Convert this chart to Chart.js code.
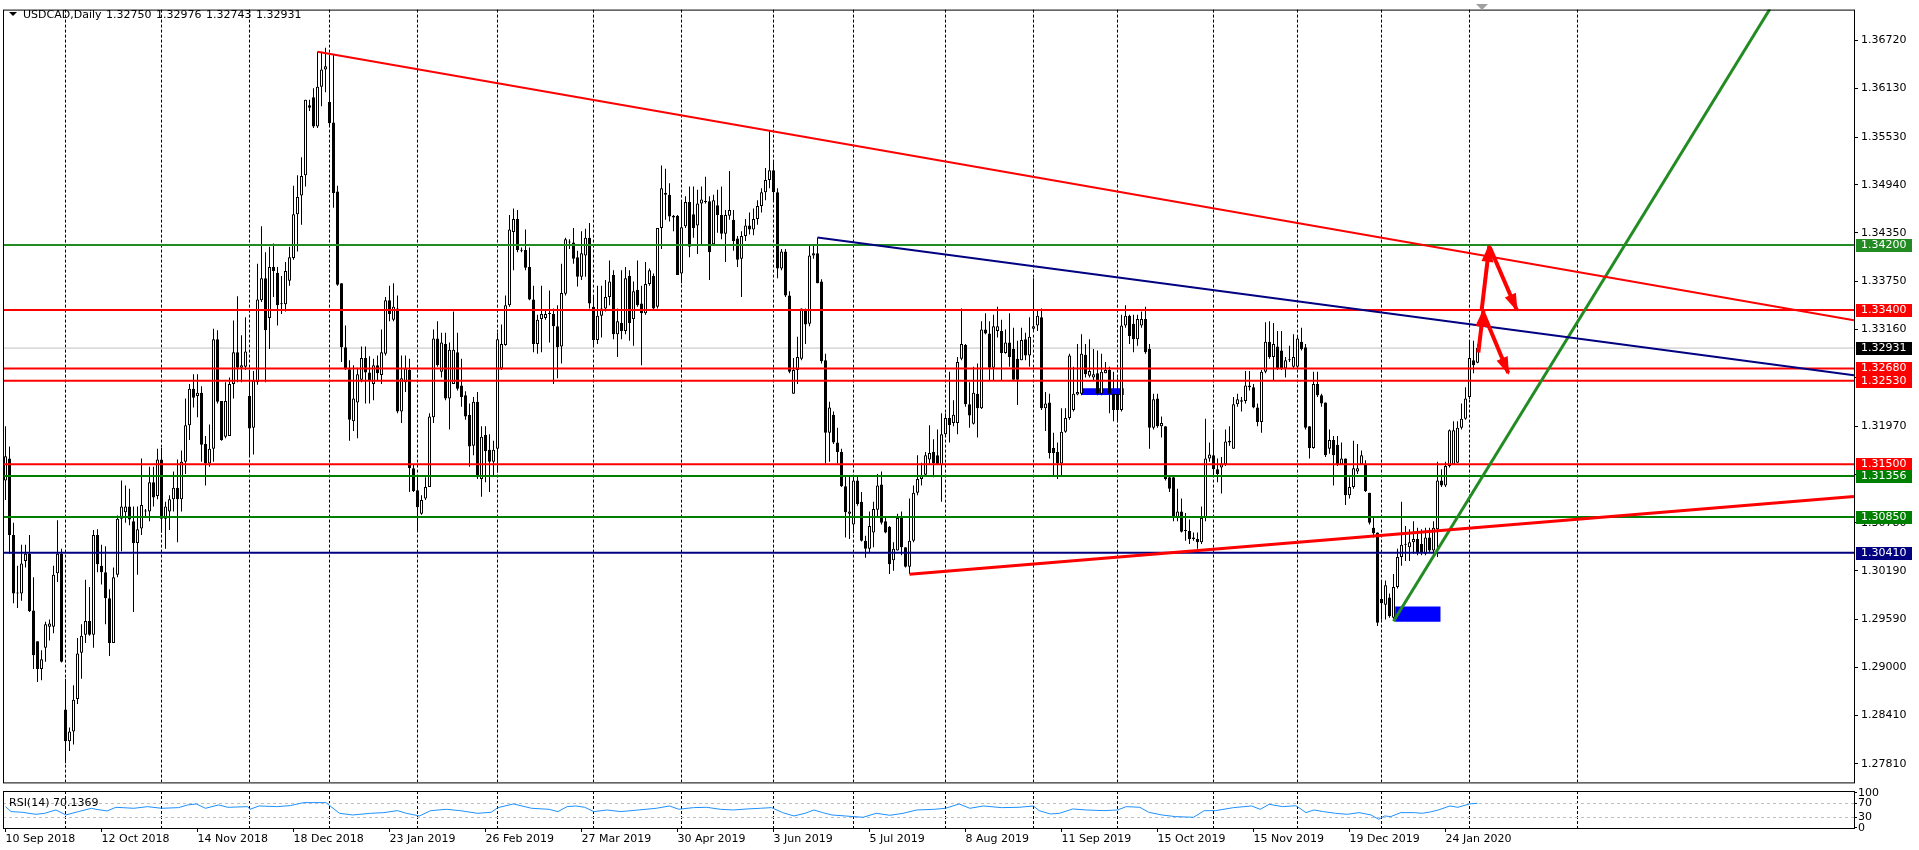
<!DOCTYPE html>
<html>
<head>
<meta charset="utf-8">
<title>USDCAD,Daily</title>
<script src="https://cdn.jsdelivr.net/npm/chart.js@4.4.1/dist/chart.umd.min.js"></script>
<style>
  html, body { margin: 0; padding: 0; background: #fff; overflow: hidden; }
  #wrap { position: relative; width: 1919px; height: 850px; }
  canvas { position: absolute; left: 0; }
  #main { top: 0; }
  #rsi { top: 780px; }
</style>
</head>
<body>
<div id="wrap">
  <canvas id="main" width="1919" height="792"></canvas>
  <canvas id="rsi" width="1919" height="70"></canvas>
</div>
<script>
// daily candles, one value per bar (bar 0 = 10 Sep 2018)
var opens = [
  1.3130,1.3157,1.3063,1.2992,1.2991,1.3031,1.3040,1.2970,1.2932,1.2898, 1.2924,1.2950,1.2950,1.3016,1.3040,1.2848,1.2809,1.2821,1.2861,1.2918,
  1.2940,1.2957,1.2940,1.3063,1.3025,1.3017,1.2985,1.2930,1.3014,1.3083, 1.3091,1.3098,1.3080,1.3053,1.3071,1.3092,1.3092,1.3128,1.3111,1.3156,
  1.3083,1.3092,1.3107,1.3121,1.3107,1.3153,1.3198,1.3243,1.3234,1.3238, 1.3175,1.3151,1.3169,1.3304,1.3228,1.3184,1.3185,1.3249,1.3288,1.3269,
  1.3270,1.3234,1.3195,1.3251,1.3352,1.3379,1.3330,1.3393,1.3386,1.3348, 1.3347,1.3376,1.3404,1.3458,1.3481,1.3506,1.3592,1.3602,1.3566,1.3615,
  1.3636,1.3596,1.3571,1.3486,1.3373,1.3294,1.3267,1.3203,1.3226,1.3254, 1.3281,1.3263,1.3249,1.3272,1.3260,1.3286,1.3352,1.3328,1.3342,1.3215,
  1.3251,1.3266,1.3145,1.3118,1.3089,1.3108,1.3122,1.3208,1.3305,1.3264, 1.3298,1.3231,1.3249,1.3288,1.3247,1.3235,1.3211,1.3173,1.3227,1.3132,
  1.3186,1.3168,1.3153,1.3169,1.3268,1.3297,1.3346,1.3436,1.3452,1.3414, 1.3414,1.3393,1.3353,1.3298,1.3329,1.3330,1.3335,1.3335,1.3320,1.3295,
  1.3360,1.3424,1.3423,1.3405,1.3381,1.3407,1.3429,1.3344,1.3303,1.3333, 1.3342,1.3356,1.3383,1.3310,1.3324,1.3314,1.3382,1.3329,1.3365,1.3348,
  1.3336,1.3372,1.3382,1.3344,1.3441,1.3484,1.3482,1.3456,1.3456,1.3385, 1.3443,1.3473,1.3458,1.3444,1.3471,1.3474,1.3474,1.3421,1.3469,1.3457,
  1.3434,1.3456,1.3451,1.3428,1.3403,1.3431,1.3444,1.3439,1.3452,1.3468, 1.3485,1.3500,1.3512,1.3485,1.3391,1.3412,1.3358,1.3237,1.3266,1.3280,
  1.3340,1.3323,1.3407,1.3410,1.3375,1.3278,1.3189,1.3211,1.3177,1.3165, 1.3123,1.3089,1.3076,1.3130,1.3104,1.3056,1.3046,1.3066,1.3094,1.3125,
  1.3080,1.3073,1.3032,1.3044,1.3084,1.3048,1.3024,1.3056,1.3115,1.3132, 1.3137,1.3156,1.3165,1.3161,1.3149,1.3187,1.3207,1.3201,1.3201,1.3280,
  1.3297,1.3224,1.3200,1.3237,1.3219,1.3316,1.3311,1.3269,1.3314,1.3314, 1.3287,1.3300,1.3292,1.3280,1.3278,1.3304,1.3284,1.3317,1.3321,1.3331,
  1.3219,1.3226,1.3170,1.3165,1.3151,1.3190,1.3207,1.3217,1.3236,1.3237, 1.3285,1.3259,1.3257,1.3262,1.3237,1.3262,1.3266,1.3237,1.3237,1.3217,
  1.3321,1.3333,1.3323,1.3304,1.3321,1.3329,1.3292,1.3195,1.3231,1.3197, 1.3197,1.3134,1.3134,1.3084,1.3092,1.3068,1.3068,1.3058,1.3058,1.3054,
  1.3084,1.3157,1.3161,1.3144,1.3146,1.3150,1.3177,1.3169,1.3224,1.3227, 1.3228,1.3245,1.3245,1.3220,1.3202,1.3264,1.3301,1.3282,1.3295,1.3290,
  1.3268,1.3278,1.3270,1.3270,1.3301,1.3294,1.3197,1.3170,1.3249,1.3235, 1.3226,1.3169,1.3180,1.3174,1.3150,1.3157,1.3112,1.3122,1.3141,1.3150,
  1.3150,1.3115,1.3072,1.3066,1.2984,1.2977,1.2986,1.2961,1.2999,1.3036, 1.3051,1.3048,1.3054,1.3058,1.3052,1.3040,1.3060,1.3044,1.3070,1.3130,
  1.3124,1.3148,1.3150,1.3152,1.3195,1.3206,1.3233,1.3278,1.32750
];
var highs = [
  1.3197,1.3172,1.3078,1.3025,1.3051,1.3051,1.3063,1.3011,1.2932,1.2921, 1.2956,1.2959,1.3025,1.3081,1.3046,1.2886,1.2826,1.2878,1.2936,1.2953,
  1.3008,1.2999,1.3069,1.3070,1.3051,1.3049,1.2996,1.3023,1.3087,1.3130, 1.3124,1.3120,1.3098,1.3098,1.3157,1.3095,1.3147,1.3147,1.3169,1.3170,
  1.3104,1.3112,1.3141,1.3156,1.3167,1.3231,1.3249,1.3261,1.3261,1.3246, 1.3185,1.3199,1.3317,1.3315,1.3228,1.3251,1.3257,1.3327,1.3357,1.3309,
  1.3331,1.3266,1.3265,1.3397,1.3443,1.3411,1.3418,1.3422,1.3393,1.3382, 1.3399,1.3418,1.3493,1.3506,1.3528,1.3599,1.3599,1.3613,1.3658,1.3658,
  1.3663,1.3654,1.3654,1.3493,1.3373,1.3321,1.3278,1.3272,1.3269,1.3295, 1.3295,1.3283,1.3280,1.3284,1.3316,1.3356,1.3370,1.3373,1.3358,1.3284,
  1.3284,1.3280,1.3149,1.3134,1.3112,1.3134,1.3213,1.3316,1.3326,1.3312, 1.3312,1.3300,1.3338,1.3312,1.3280,1.3240,1.3225,1.3233,1.3239,1.3197,
  1.3197,1.3187,1.3179,1.3312,1.3322,1.3358,1.3457,1.3465,1.3463,1.3417, 1.3439,1.3417,1.3370,1.3334,1.3370,1.3340,1.3364,1.3342,1.3346,1.3397,
  1.3429,1.3427,1.3441,1.3413,1.3437,1.3440,1.3447,1.3358,1.3370,1.3370, 1.3377,1.3401,1.3389,1.3342,1.3389,1.3393,1.3389,1.3375,1.3401,1.3370,
  1.3399,1.3391,1.3385,1.3441,1.3518,1.3514,1.3496,1.3457,1.3457,1.3475, 1.3480,1.3492,1.3492,1.3488,1.3492,1.3504,1.3480,1.3482,1.3488,1.3492,
  1.3463,1.3511,1.3463,1.3431,1.3437,1.3452,1.3460,1.3465,1.3475,1.3490, 1.3515,1.3561,1.3522,1.3490,1.3415,1.3415,1.3363,1.3281,1.3307,1.3342,
  1.3342,1.3419,1.3419,1.3429,1.3378,1.3286,1.3227,1.3215,1.3195,1.3169, 1.3136,1.3136,1.3136,1.3136,1.3116,1.3062,1.3092,1.3104,1.3138,1.3141,
  1.3084,1.3074,1.3054,1.3089,1.3092,1.3048,1.3108,1.3124,1.3161,1.3152, 1.3165,1.3198,1.3181,1.3193,1.3213,1.3213,1.3264,1.3229,1.3282,1.3342,
  1.3298,1.3251,1.3270,1.3274,1.3326,1.3336,1.3326,1.3334,1.3344,1.3328, 1.3316,1.3336,1.3318,1.3302,1.3318,1.3312,1.3331,1.3379,1.3340,1.3342,
  1.3239,1.3237,1.3189,1.3177,1.3219,1.3219,1.3286,1.3270,1.3298,1.3310, 1.3298,1.3304,1.3292,1.3290,1.3286,1.3276,1.3270,1.3264,1.3257,1.3334,
  1.3346,1.3334,1.3334,1.3334,1.3338,1.3344,1.3298,1.3237,1.3237,1.3209, 1.3197,1.3136,1.3136,1.3120,1.3108,1.3090,1.3082,1.3066,1.3066,1.3098,
  1.3206,1.3177,1.3193,1.3157,1.3159,1.3193,1.3197,1.3233,1.3237,1.3233, 1.3265,1.3265,1.3249,1.3225,1.3266,1.3325,1.3326,1.3324,1.3314,1.3314,
  1.3282,1.3296,1.3310,1.3308,1.3318,1.3298,1.3197,1.3264,1.3264,1.3237, 1.3226,1.3193,1.3185,1.3185,1.3177,1.3157,1.3134,1.3179,1.3175,1.3167,
  1.3155,1.3115,1.3084,1.3066,1.3007,1.3007,1.2991,1.3015,1.3046,1.3104, 1.3074,1.3070,1.3080,1.3072,1.3070,1.3072,1.3072,1.3080,1.3153,1.3144,
  1.3153,1.3193,1.3203,1.3203,1.3225,1.3245,1.3302,1.3302,1.32976
];
var lows = [
  1.3106,1.3040,1.2979,1.2973,1.2982,1.3023,1.2968,1.2898,1.2882,1.2884, 1.2907,1.2933,1.2942,1.3005,1.2906,1.2782,1.2797,1.2805,1.2855,1.2886,
  1.2930,1.2939,1.2924,1.3017,1.3002,1.2953,1.2914,1.2930,1.3011,1.3043, 1.3078,1.3075,1.2968,1.3014,1.3063,1.3086,1.3080,1.3098,1.3107,1.3066,
  1.3046,1.3069,1.3092,1.3054,1.3092,1.3138,1.3180,1.3220,1.3208,1.3153, 1.3124,1.3147,1.3153,1.3225,1.3179,1.3182,1.3185,1.3231,1.3251,1.3251,
  1.3266,1.3159,1.3162,1.3248,1.3350,1.3251,1.3292,1.3356,1.3321,1.3335, 1.3338,1.3370,1.3402,1.3412,1.3445,1.3492,1.3585,1.3564,1.3564,1.3591,
  1.3608,1.3567,1.3466,1.3370,1.3276,1.3266,1.3179,1.3191,1.3182,1.3251, 1.3225,1.3225,1.3229,1.3253,1.3249,1.3284,1.3326,1.3326,1.3213,1.3201,
  1.3239,1.3116,1.3116,1.3068,1.3088,1.3106,1.3122,1.3201,1.3270,1.3257, 1.3229,1.3193,1.3249,1.3241,1.3221,1.3205,1.3147,1.3161,1.3132,1.3110,
  1.3128,1.3116,1.3136,1.3140,1.3266,1.3296,1.3344,1.3389,1.3411,1.3411, 1.3389,1.3352,1.3288,1.3286,1.3288,1.3328,1.3300,1.3249,1.3256,1.3274,
  1.3358,1.3415,1.3397,1.3369,1.3377,1.3381,1.3342,1.3294,1.3298,1.3306, 1.3338,1.3346,1.3304,1.3282,1.3304,1.3310,1.3302,1.3296,1.3344,1.3272,
  1.3334,1.3370,1.3340,1.3342,1.3415,1.3451,1.3449,1.3437,1.3383,1.3373, 1.3441,1.3405,1.3429,1.3409,1.3419,1.3471,1.3377,1.3419,1.3435,1.3427,
  1.3399,1.3451,1.3413,1.3393,1.3356,1.3425,1.3433,1.3432,1.3445,1.3460, 1.3475,1.3490,1.3475,1.3379,1.3389,1.3356,1.3262,1.3237,1.3249,1.3278,
  1.3298,1.3320,1.3403,1.3373,1.3274,1.3151,1.3153,1.3175,1.3151,1.3122, 1.3060,1.3058,1.3065,1.3099,1.3055,1.3035,1.3042,1.3048,1.3084,1.3076,
  1.3065,1.3015,1.3019,1.3044,1.3038,1.3023,1.3015,1.3054,1.3112,1.3124, 1.3136,1.3149,1.3134,1.3149,1.3104,1.3185,1.3177,1.3197,1.3187,1.3278,
  1.3221,1.3195,1.3199,1.3183,1.3218,1.3310,1.3253,1.3253,1.3306,1.3253, 1.3286,1.3270,1.3253,1.3223,1.3278,1.3278,1.3270,1.3314,1.3314,1.3217,
  1.3191,1.3157,1.3136,1.3132,1.3136,1.3189,1.3205,1.3215,1.3235,1.3235, 1.3257,1.3257,1.3253,1.3235,1.3235,1.3262,1.3213,1.3203,1.3203,1.3215,
  1.3318,1.3298,1.3288,1.3296,1.3318,1.3286,1.3169,1.3193,1.3195,1.3183, 1.3130,1.3116,1.3080,1.3080,1.3066,1.3056,1.3052,1.3056,1.3046,1.3052,
  1.3080,1.3153,1.3136,1.3128,1.3114,1.3148,1.3173,1.3169,1.3221,1.3215, 1.3225,1.3241,1.3219,1.3197,1.3189,1.3262,1.3280,1.3253,1.3266,1.3266,
  1.3257,1.3276,1.3268,1.3269,1.3290,1.3193,1.3157,1.3169,1.3233,1.3221, 1.3159,1.3163,1.3124,1.3148,1.3149,1.3100,1.3108,1.3120,1.3138,1.3149,
  1.3116,1.3076,1.3060,1.2951,1.2959,1.2959,1.2961,1.2959,1.2997,1.3025, 1.3031,1.3031,1.3040,1.3038,1.3038,1.3038,1.3042,1.3036,1.3036,1.3122,
  1.3122,1.3146,1.3149,1.3152,1.3193,1.3205,1.3230,1.3262,1.32743
];
var closes = [
  1.3160,1.3063,1.2991,1.2991,1.3028,1.3040,1.2969,1.2915,1.2898,1.2910, 1.2953,1.2954,1.3014,1.3040,1.2907,1.2809,1.2821,1.2860,1.2917,1.2939,
  1.2957,1.2940,1.3063,1.3027,1.3017,1.2985,1.2930,1.3011,1.3083,1.3098, 1.3098,1.3082,1.3053,1.3070,1.3100,1.3093,1.3128,1.3109,1.3156,1.3083,
  1.3098,1.3107,1.3121,1.3107,1.3153,1.3198,1.3243,1.3232,1.3238,1.3174, 1.3151,1.3169,1.3304,1.3227,1.3180,1.3228,1.3249,1.3288,1.3269,1.3272,
  1.3289,1.3194,1.3253,1.3353,1.3379,1.3315,1.3393,1.3388,1.3346,1.3347, 1.3388,1.3405,1.3458,1.3479,1.3505,1.3599,1.3589,1.3566,1.3615,1.3636,
  1.3640,1.3570,1.3484,1.3371,1.3294,1.3267,1.3205,1.3231,1.3261,1.3281, 1.3263,1.3253,1.3272,1.3262,1.3288,1.3352,1.3335,1.3344,1.3215,1.3256,
  1.3268,1.3145,1.3117,1.3097,1.3106,1.3122,1.3209,1.3305,1.3272,1.3300, 1.3231,1.3291,1.3291,1.3243,1.3233,1.3209,1.3172,1.3227,1.3134,1.3184,
  1.3166,1.3153,1.3168,1.3304,1.3298,1.3346,1.3439,1.3452,1.3414,1.3413, 1.3392,1.3353,1.3298,1.3328,1.3335,1.3335,1.3335,1.3320,1.3294,1.3361,
  1.3427,1.3423,1.3403,1.3381,1.3410,1.3429,1.3348,1.3303,1.3333,1.3342, 1.3356,1.3375,1.3310,1.3326,1.3314,1.3379,1.3324,1.3363,1.3346,1.3336,
  1.3372,1.3389,1.3342,1.3441,1.3490,1.3482,1.3455,1.3454,1.3383,1.3442, 1.3473,1.3418,1.3441,1.3471,1.3476,1.3473,1.3411,1.3475,1.3457,1.3434,
  1.3457,1.3463,1.3425,1.3402,1.3431,1.3444,1.3439,1.3452,1.3468,1.3485, 1.3500,1.3512,1.3485,1.3391,1.3412,1.3358,1.3264,1.3266,1.3282,1.3342,
  1.3322,1.3407,1.3410,1.3373,1.3277,1.3189,1.3220,1.3177,1.3165,1.3123, 1.3091,1.3092,1.3130,1.3101,1.3056,1.3046,1.3074,1.3095,1.3124,1.3078,
  1.3066,1.3027,1.3046,1.3084,1.3048,1.3024,1.3056,1.3115,1.3132,1.3137, 1.3161,1.3164,1.3151,1.3149,1.3187,1.3207,1.3198,1.3211,1.3276,1.3298,
  1.3224,1.3210,1.3238,1.3219,1.3316,1.3311,1.3269,1.3320,1.3320,1.3287, 1.3300,1.3282,1.3254,1.3254,1.3303,1.3284,1.3307,1.3320,1.3333,1.3219,
  1.3225,1.3164,1.3164,1.3151,1.3190,1.3207,1.3284,1.3237,1.3239,1.3286, 1.3261,1.3265,1.3261,1.3237,1.3264,1.3266,1.3237,1.3217,1.3217,1.3321,
  1.3333,1.3308,1.3304,1.3329,1.3329,1.3288,1.3195,1.3230,1.3197,1.3201, 1.3132,1.3120,1.3084,1.3092,1.3067,1.3069,1.3058,1.3060,1.3054,1.3084,
  1.3157,1.3162,1.3144,1.3138,1.3150,1.3178,1.3179,1.3224,1.3230,1.3229, 1.3247,1.3247,1.3220,1.3202,1.3264,1.3301,1.3282,1.3298,1.3268,1.3268,
  1.3278,1.3278,1.3282,1.3305,1.3292,1.3195,1.3170,1.3249,1.3235,1.3225, 1.3161,1.3180,1.3161,1.3149,1.3157,1.3112,1.3122,1.3145,1.3145,1.3161,
  1.3117,1.3078,1.3065,1.2955,1.2979,1.3001,1.2963,1.2999,1.3036,1.3051, 1.3052,1.3054,1.3058,1.3042,1.3042,1.3060,1.3044,1.3072,1.3130,1.3124,
  1.3148,1.3192,1.3192,1.3195,1.3206,1.3231,1.3281,1.3272,1.32931
];

// axis text
var dateLabels = ["10 Sep 2018", "12 Oct 2018", "14 Nov 2018", "18 Dec 2018", "23 Jan 2019", "26 Feb 2019",
  "27 Mar 2019", "30 Apr 2019", "3 Jun 2019", "5 Jul 2019", "8 Aug 2019", "11 Sep 2019", "15 Oct 2019",
  "15 Nov 2019", "19 Dec 2019", "24 Jan 2020"];
var labelBars = [0, 24, 48, 72, 96, 120, 144, 168, 192, 216, 240, 264, 288, 312, 336, 360];
var monthBars = [15, 39, 61, 81, 103, 123, 147, 169, 192, 212, 235, 257, 278, 302, 323, 344, 366, 393];
var priceTicks = [1.36720, 1.36130, 1.35530, 1.34940, 1.34350, 1.33750, 1.33160, 1.32570, 1.31970,
  1.31380, 1.30780, 1.30190, 1.29590, 1.29000, 1.28410, 1.27810];
var rsiTicks = [0, 30, 70, 100];
var rsiReading = 70.1369;

// horizontal levels
var levelValues = [1.34200, 1.33400, 1.32680, 1.32530, 1.31500, 1.31356, 1.30850, 1.30410];
var levelColors = ["#228B22", "#FF0000", "#FF0000", "#FF0000", "#FF0000", "#008000", "#008000", "#000080"];

// trend lines / arrows / boxes: [bar, price] end points
var upperTrend = [[78, 1.3658], [462.1, 1.33273]];
var navyTrend = [[203, 1.34294], [462.1, 1.32597]];
var lowerTrend = [[226, 1.30145], [462.1, 1.31103]];
var greenTrend = [[347, 1.29568], [441.1, 1.37106]];
var arrowPaths = [
  [[368.2, 1.32877], [369.45, 1.33391]],
  [[369.45, 1.33362], [375.7, 1.32623]],
  [[369.05, 1.33403], [370.95, 1.34190]],
  [[371.1, 1.34169], [377.8, 1.33403]]
];
var boxBars = [[268.9, 279.6], [347.4, 358.8]];
var boxPrices = [[1.32353, 1.32438], [1.29560, 1.29750]];

// RSI(14) line
var rsiBars = [0, 1.4, 4.2, 7.6, 9.8, 12.6, 15.1, 18.2, 21.5, 22.6, 25.4, 27.6, 32.1, 35.5, 39, 43.3, 45.5, 47.7, 50, 51.6,
  53.3, 55.6, 60.6, 61.1, 63.4, 67.8, 71.2, 74.5, 80.1, 83.5, 86.8, 91.3, 94.6, 98, 100.2, 103.5, 106.3, 110.2, 113.6, 118,
  121.4, 123.1, 127, 131.5, 135.9, 138.1, 140.4, 142.6, 144.8, 147.1, 150.4, 153.8, 158.2, 162.7, 166, 168.3,
  172, 175.3, 178.7, 182, 185.4, 188.7, 191.5, 194.3, 197.1, 199.9, 202.1, 204.3, 206.6, 209.9, 212.1, 214.4, 217.7, 221.1,
  224.4, 227.8, 232.2, 235, 238.4, 241.1, 244.5, 249, 253.4, 257, 258.4, 261.2, 263.5, 266.8, 270.2, 274.6, 278, 280.2,
  283.6, 285.8, 289.1, 292.5, 297, 299.7, 302.5, 307, 311.5, 313.7, 315.9, 319.3, 322.6,
  323.6, 325.1, 327.1, 329.5, 332.5, 335.4, 338.4, 341.4, 343.3, 344.8, 346.3, 348.8, 352.2, 354.2, 356.2, 358.2, 361.1,
  363.1, 366, 368];
var rsiValues = [60.4, 46.2, 44.3, 38.5, 41.4, 50.9, 36.6, 46.2, 55.7, 52.8, 48.1, 58.5, 55.7, 60.4, 55.7, 57.6, 65.2, 68.1, 55.7, 60.4,
  65.2, 58.5, 60.4, 52.8, 62.3, 60.4, 63.3, 71.9, 71.9, 41.4, 36.6, 41.4, 43.3, 49.0, 41.4, 33.8, 49.0, 52.8, 49.0, 41.4,
  44.3, 57.6, 68.1, 55.7, 52.8, 46.2, 60.4, 62.3, 58.5, 46.2, 50.9, 46.2, 50.9, 55.7, 62.3, 53.0,
  57.6, 58.5, 52.8, 50.9, 53.8, 55.7, 57.6, 43.3, 33.8, 41.4, 50.9, 43.3, 36.6, 33.8, 31.9, 30.0, 41.4, 35.7,
  41.4, 50.9, 52.8, 55.7, 68.1, 55.7, 62.3, 57.6, 58.5, 62.3, 49.0, 39.5, 41.4, 53.8, 50.9, 49.0, 50.9, 60.4,
  58.5, 44.3, 36.6, 31.9, 30.0, 49.0, 49.0, 57.6, 62.3, 52.8, 67.1, 60.4, 63.0,
  55.7, 43.3, 50.9, 46.2, 41.4, 38.5, 43.3, 36.6, 24.3, 33.8, 31.9, 43.3, 43.3, 41.4, 45.2, 50.9, 62.3,
  58.5, 68.1, 70.1];

var X_MIN = -0.625, X_MAX = 462.125;
var FONT = '"DejaVu Sans", sans-serif';
Chart.defaults.font.family = FONT;
Chart.defaults.font.size = 11;
Chart.defaults.color = "#000";

var last = closes.length - 1;
var wickData = [], bodyData = [], bodyFill = [];
for (var i = 0; i < closes.length; i++) {
  wickData.push({ x: i, y: [lows[i], highs[i]] });
  bodyData.push({ x: i, y: [opens[i], closes[i]] });
  bodyFill.push(closes[i] >= opens[i] ? "#FFFFFF" : "#000000");
}

function seg(pts) {
  return pts.map(function (p) { return { x: p[0], y: p[1] }; });
}
function lineSet(pts, color, width, order) {
  return { type: "line", data: seg(pts), borderColor: color, borderWidth: width, pointRadius: 0,
           fill: false, tension: 0, order: order };
}

var datasets = [];
// filled boxes (behind candles)
boxBars.forEach(function (b, k) {
  datasets.push({ type: "line", data: [{ x: b[0], y: boxPrices[k][1] }, { x: b[1], y: boxPrices[k][1] }],
    fill: { value: boxPrices[k][0] }, backgroundColor: "#0000FF", borderWidth: 0, pointRadius: 0, order: 10 });
});
datasets.push({ type: "bar", data: wickData, backgroundColor: "#000", borderWidth: 0, barThickness: 1,
  grouped: false, inflateAmount: 0, order: 6 });
datasets.push({ type: "bar", data: bodyData, backgroundColor: bodyFill, borderColor: "#000", borderWidth: 1,
  borderSkipped: false, barThickness: 3, grouped: false, inflateAmount: 0, minBarLength: 1, order: 5 });
datasets.push(lineSet([[X_MIN, closes[last]], [X_MAX, closes[last]]], "#C0C0C0", 1, 7));
levelValues.forEach(function (v, k) {
  datasets.push(lineSet([[X_MIN, v], [X_MAX, v]], levelColors[k], 2, 2));
});
datasets.push(lineSet(upperTrend, "#FF0000", 2, 1));
datasets.push(lineSet(navyTrend, "#000080", 2, 1));
datasets.push(lineSet(lowerTrend, "#FF0000", 3, 1));
datasets.push(lineSet(greenTrend, "#228B22", 3, 1));
arrowPaths.forEach(function (a) {
  var d = lineSet(a, "#FF0000", 4, 0);
  d.arrow = true;
  datasets.push(d);
});

var frame = {
  id: "frame",
  afterDatasetsDraw: function (chart) {
    var a = chart.chartArea, ctx = chart.ctx;
    ctx.save();
    ctx.strokeStyle = "#000";
    ctx.lineWidth = 1;
    ctx.strokeRect(a.left + 0.5, a.top + 0.5, a.right - a.left, a.bottom - a.top);
    ctx.restore();
  }
};

var arrowHeads = {
  id: "arrowHeads",
  afterDatasetsDraw: function (chart) {
    var ctx = chart.ctx;
    chart.data.datasets.forEach(function (ds, k) {
      if (!ds.arrow) return;
      var pts = chart.getDatasetMeta(k).data;
      var a = pts[pts.length - 2], b = pts[pts.length - 1];
      var ang = Math.atan2(b.y - a.y, b.x - a.x);
      var len = 16, half = 6;
      var bx = b.x - len * Math.cos(ang), by = b.y - len * Math.sin(ang);
      ctx.save();
      ctx.fillStyle = ds.borderColor;
      ctx.beginPath();
      ctx.moveTo(b.x + 2 * Math.cos(ang), b.y + 2 * Math.sin(ang));
      ctx.lineTo(bx + half * Math.sin(ang), by - half * Math.cos(ang));
      ctx.lineTo(bx - half * Math.sin(ang), by + half * Math.cos(ang));
      ctx.closePath();
      ctx.fill();
      ctx.restore();
    });
  }
};

var priceBoxes = {
  id: "priceBoxes",
  afterDraw: function (chart) {
    var ys = chart.scales.y, ctx = chart.ctx, right = chart.chartArea.right;
    var items = levelValues.map(function (v, k) { return [v, levelColors[k]]; });
    items.push([closes[last], "#000000"]);
    ctx.save();
    ctx.font = "11px " + FONT;
    ctx.textBaseline = "middle";
    ctx.textAlign = "left";
    items.forEach(function (it) {
      var y = Math.round(ys.getPixelForValue(it[0]));
      ctx.fillStyle = it[1];
      ctx.fillRect(right + 2, y - 6, 56, 13);
      ctx.fillStyle = "#FFFFFF";
      ctx.fillText(it[0].toFixed(5), right + 7, y + 0.5);
    });
    ctx.restore();
  }
};

var header = {
  id: "header",
  afterDraw: function (chart) {
    var ctx = chart.ctx;
    ctx.save();
    ctx.fillStyle = "#000";
    ctx.beginPath();
    ctx.moveTo(9, 12); ctx.lineTo(17, 12); ctx.lineTo(13, 16); ctx.closePath();
    ctx.fill();
    ctx.font = "11px " + FONT;
    ctx.textBaseline = "middle";
    ctx.textAlign = "left";
    ctx.fillText("USDCAD,Daily", 23, 15);
    var vals = [opens[last], highs[last], lows[last], closes[last]];
    var xs = [106, 156, 206, 256];
    vals.forEach(function (v, k) { ctx.fillText(v.toFixed(5), xs[k], 15); });
    // chart shift marker
    ctx.fillStyle = "#A0A0A0";
    ctx.beginPath();
    ctx.moveTo(1476, 4); ctx.lineTo(1488, 4); ctx.lineTo(1482, 10); ctx.closePath();
    ctx.fill();
    ctx.restore();
  }
};

new Chart(document.getElementById("main"), {
  type: "line",
  data: { datasets: datasets },
  options: {
    responsive: false, animation: false, devicePixelRatio: 1, events: [],
    layout: { padding: { left: 3, top: 3, right: 0, bottom: 3 } },
    plugins: { legend: { display: false }, tooltip: { enabled: false } },
    scales: {
      x: {
        type: "linear", min: X_MIN, max: X_MAX, offset: false,
        afterBuildTicks: function (s) { s.ticks = monthBars.map(function (v) { return { value: v }; }); },
        afterFit: function (s) { s.height = 0; },
        ticks: { display: false },
        grid: { color: "#000", lineWidth: 1, drawTicks: false, offset: false },
        border: { display: false, dash: [3, 2] }
      },
      y: {
        type: "linear", position: "right", min: 1.275832, max: 1.370989,
        afterBuildTicks: function (s) { s.ticks = priceTicks.map(function (v) { return { value: v }; }); },
        afterFit: function (s) { s.width = 65; },
        ticks: { autoSkip: false, padding: 3, callback: function (v) { return Number(v).toFixed(5); } },
        grid: { drawOnChartArea: false, drawTicks: true, tickLength: 4, tickColor: "#000" },
        border: { display: false }
      }
    }
  },
  plugins: [frame, arrowHeads, priceBoxes, header]
});

var rsiLabel = {
  id: "rsiLabel",
  afterDraw: function (chart) {
    var ctx = chart.ctx;
    ctx.save();
    ctx.font = "11px " + FONT;
    ctx.fillStyle = "#000";
    ctx.textBaseline = "middle";
    ctx.fillText("RSI(14) " + rsiReading.toFixed(4), 9, 23);
    ctx.restore();
  }
};

var tickBars = labelBars.concat(monthBars).filter(function (v, k, arr) { return arr.indexOf(v) === k; })
  .sort(function (a, b) { return a - b; });

new Chart(document.getElementById("rsi"), {
  type: "line",
  data: {
    datasets: [{
      data: rsiBars.map(function (b, k) { return { x: b, y: rsiValues[k] }; }),
      borderColor: "#1E90FF", borderWidth: 1, pointRadius: 0, fill: false, tension: 0
    }]
  },
  options: {
    responsive: false, animation: false, devicePixelRatio: 1, events: [],
    layout: { padding: { left: 3, top: 11, right: 0, bottom: 0 } },
    plugins: { legend: { display: false }, tooltip: { enabled: false } },
    scales: {
      x: {
        type: "linear", min: X_MIN, max: X_MAX, offset: false,
        afterBuildTicks: function (s) { s.ticks = tickBars.map(function (v) { return { value: v }; }); },
        afterFit: function (s) { s.height = 22; },
        ticks: {
          autoSkip: false, maxRotation: 0, align: "start", padding: 1,
          callback: function (v) { var k = labelBars.indexOf(v); return k < 0 ? "" : dateLabels[k]; }
        },
        grid: {
          lineWidth: 1, tickLength: 4, offset: false,
          color: function (c) { return c.tick && monthBars.indexOf(c.tick.value) >= 0 ? "#000" : "rgba(0,0,0,0)"; },
          tickColor: function (c) { return c.tick && labelBars.indexOf(c.tick.value) >= 0 ? "#000" : "rgba(0,0,0,0)"; }
        },
        border: { display: false, dash: [3, 2] }
      },
      y: {
        type: "linear", position: "right", min: -0.6, max: 105.1,
        afterBuildTicks: function (s) { s.ticks = rsiTicks.map(function (v) { return { value: v }; }); },
        afterFit: function (s) { s.width = 65; },
        ticks: { autoSkip: false, padding: 1 },
        grid: {
          drawTicks: true, tickLength: 3, tickColor: "#000",
          color: function (c) { return c.tick && (c.tick.value === 30 || c.tick.value === 70) ? "#C0C0C0" : "rgba(0,0,0,0)"; }
        },
        border: { display: false, dash: [3, 3] }
      }
    }
  },
  plugins: [frame, rsiLabel]
});
</script>
</body>
</html>
